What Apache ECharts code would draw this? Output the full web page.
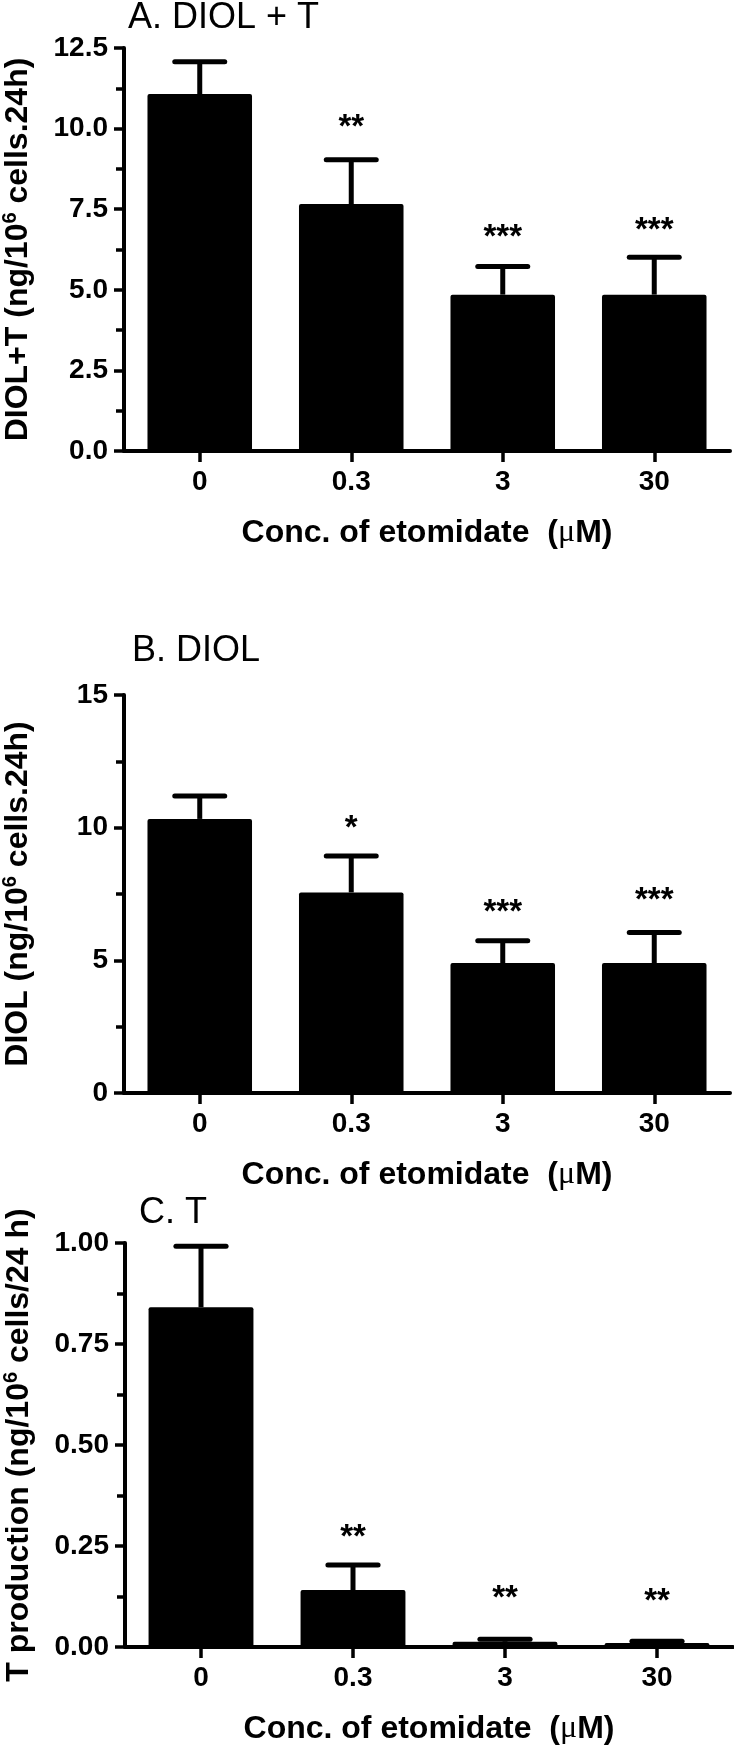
<!DOCTYPE html>
<html><head><meta charset="utf-8">
<script src="https://cdn.jsdelivr.net/npm/echarts@6/dist/echarts.min.js"></script>
<style>html,body{margin:0;padding:0;background:#fff}#c{width:734px;height:1748px}</style>
</head><body><div id="c"></div>
<script>
const categories = ['0', '0.3', '3', '30'];

const meanA = [11.07, 7.66, 4.85, 4.85];
const semA = [1.00, 1.37, 0.87, 1.16];
const starsA = ['', '**', '***', '***'];
const starPosA = [0, 10.23, 6.82, 7.05];
const yLabelsA = ['0.0', '2.5', '5.0', '7.5', '10.0', '12.5'];

const meanB = [10.33, 7.56, 4.90, 4.90];
const semB = [0.86, 1.37, 0.84, 1.15];
const starsB = ['', '*', '***', '***'];
const starPosB = [0, 10.2, 7.05, 7.5];
const yLabelsB = ['0', '5', '10', '15'];

const meanC = [0.841, 0.141, 0.013, 0.010];
const semC = [0.151, 0.062, 0.006, 0.004];
const starsC = ['', '**', '**', '**'];
const starPosC = [0, 0.287, 0.137, 0.130];
const yLabelsC = ['0.00', '0.25', '0.50', '0.75', '1.00'];

const titles = ['A. DIOL + T', 'B. DIOL', 'C. T'];
const yNames = [
  'DIOL+T (ng/10{sup|6} cells.24h)',
  'DIOL (ng/10{sup|6} cells.24h)',
  'T production (ng/10{sup|6} cells/24 h)'
];
const xName = 'Conc. of etomidate  ({mu|\u03bc}M)';

const FONT = "'Liberation Sans', Arial, sans-serif";

function yAxis(gi, max, interval, labels, nameText) {
  return {
    type: 'value', gridIndex: gi, min: 0, max: max, interval: interval,
    axisLine: {show: true, lineStyle: {color: '#000', width: 4}},
    axisTick: {show: true, length: 10, lineStyle: {color: '#000', width: 3.5}},
    minorTick: {show: true, splitNumber: 2, length: 8, lineStyle: {color: '#000', width: 3.5}},
    splitLine: {show: false},
    axisLabel: {margin: 16, color: '#000', fontSize: 28, fontWeight: 'bold', fontFamily: FONT,
      formatter: function (v) { return labels[Math.round(v / interval)]; }},
    name: nameText, nameLocation: 'middle', nameRotate: 90, nameGap: 88,
    nameTextStyle: {color: '#000', fontSize: 32, fontWeight: 'bold', fontFamily: FONT, lineHeight: 36,
      rich: {sup: {fontSize: 20, fontWeight: 'bold', fontFamily: FONT, color: '#000', verticalAlign: 'top', lineHeight: 22}}}
  };
}
function xAxis(gi) {
  return {
    type: 'category', gridIndex: gi, data: categories,
    axisLine: {show: true, lineStyle: {color: '#000', width: 4}},
    axisTick: {show: true, alignWithLabel: true, length: 11, lineStyle: {color: '#000', width: 3.5}},
    axisLabel: {margin: 17, color: '#000', fontSize: 28, fontWeight: 'bold', fontFamily: FONT},
    name: xName, nameLocation: 'middle', nameGap: 64,
    nameTextStyle: {color: '#000', fontSize: 32, fontWeight: 'bold', fontFamily: FONT, lineHeight: 36,
      rich: {mu: {fontSize: 32, fontWeight: 'normal', fontFamily: "'Liberation Serif', serif", color: '#000', lineHeight: 36}}}
  };
}
function barSeries(gi, mean) {
  return {type: 'bar', xAxisIndex: gi, yAxisIndex: gi, data: mean, barWidth: '69%',
    itemStyle: {color: '#000', borderRadius: 2}, silent: true};
}
function errSeries(gi, mean, sem) {
  return {
    type: 'custom', xAxisIndex: gi, yAxisIndex: gi, z: 3, silent: true,
    data: mean.map(function (m, i) { return [i, m, sem[i]]; }),
    renderItem: function (p, api) {
      const i = api.value(0), m = api.value(1), e = api.value(2);
      const b = api.coord([i, m]);
      const t = api.coord([i, m + e]);
      const band = api.size([1, 0])[0];
      const hw = band * 0.165;
      return {type: 'group', children: [
        {type: 'line', shape: {x1: b[0], y1: b[1], x2: t[0], y2: t[1]}, style: {stroke: '#000', lineWidth: 5}},
        {type: 'line', shape: {x1: t[0] - hw, y1: t[1], x2: t[0] + hw, y2: t[1]}, style: {stroke: '#000', lineWidth: 5, lineCap: 'round'}}
      ]};
    }
  };
}
function starSeries(gi, pos, stars) {
  return {
    type: 'custom', xAxisIndex: gi, yAxisIndex: gi, z: 4, silent: true,
    data: pos.map(function (s, i) { return [i, s]; }),
    renderItem: function (p, api) {
      const i = api.value(0);
      const txt = stars[i];
      if (!txt) return null;
      const pt = api.coord([i, api.value(1)]);
      return {type: 'text', x: pt[0], y: pt[1] + 7,
        style: {text: txt, fill: '#000', font: "bold 33px 'Liberation Sans', Arial, sans-serif", align: 'center', verticalAlign: 'middle'}};
    }
  };
}
const titleStyle = {color: '#000', fontSize: 36, fontWeight: 'normal', fontFamily: FONT};

const chart = echarts.init(document.getElementById('c'), null, {renderer: 'canvas'});
chart.setOption({
  backgroundColor: '#fff',
  animation: false,
  title: [
    {text: titles[0], left: 128, top: 0, padding: 0, textStyle: titleStyle},
    {text: titles[1], left: 132, top: 633, padding: 0, textStyle: titleStyle},
    {text: titles[2], left: 139, top: 1195, padding: 0, textStyle: titleStyle}
  ],
  grid: [
    {left: 124, top: 48, width: 606, height: 403, outerBoundsMode: 'none'},
    {left: 124, top: 695, width: 606, height: 398, outerBoundsMode: 'none'},
    {left: 125, top: 1243, width: 608, height: 404, outerBoundsMode: 'none'}
  ],
  xAxis: [xAxis(0), xAxis(1), xAxis(2)],
  yAxis: [
    yAxis(0, 12.5, 2.5, yLabelsA, yNames[0]),
    yAxis(1, 15, 5, yLabelsB, yNames[1]),
    yAxis(2, 1, 0.25, yLabelsC, yNames[2])
  ],
  series: [
    barSeries(0, meanA), errSeries(0, meanA, semA), starSeries(0, starPosA, starsA),
    barSeries(1, meanB), errSeries(1, meanB, semB), starSeries(1, starPosB, starsB),
    barSeries(2, meanC), errSeries(2, meanC, semC), starSeries(2, starPosC, starsC)
  ]
});
</script>
</body></html>
